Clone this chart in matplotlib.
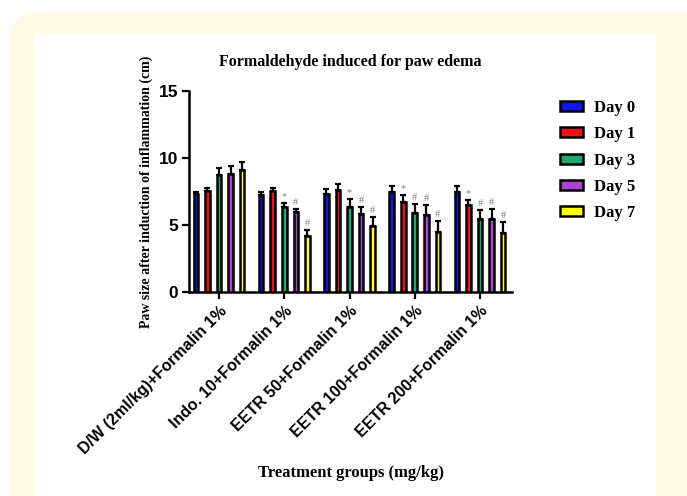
import numpy as np
import matplotlib
matplotlib.use('Agg')
import matplotlib.pyplot as plt
from matplotlib.patches import FancyBboxPatch, Rectangle

# data
groups = ['D/W (2ml/kg)+Formalin 1%', 'Indo. 10+Formalin 1%', 'EETR 50+Formalin 1%',
          'EETR 100+Formalin 1%', 'EETR 200+Formalin 1%']
days = ['Day 0', 'Day 1', 'Day 3', 'Day 5', 'Day 7']
day_colors = ['#1414E6', '#F01010', '#1FA872', '#A944D8', '#FFFF00']

day0 = [7.34, 7.24, 7.34, 7.44, 7.44]
day1 = [7.54, 7.54, 7.64, 6.72, 6.49]
day3 = [8.73, 6.34, 6.34, 5.92, 5.45]
day5 = [8.80, 5.95, 5.85, 5.72, 5.45]
day7 = [9.13, 4.15, 4.95, 4.45, 4.40]

err0 = [0.10, 0.25, 0.37, 0.45, 0.45]
err1 = [0.25, 0.25, 0.40, 0.50, 0.40]
err3 = [0.55, 0.30, 0.60, 0.67, 0.65]
err5 = [0.57, 0.27, 0.47, 0.77, 0.75]
err7 = [0.55, 0.45, 0.65, 0.85, 0.80]

sig0 = ['', '', '', '', '']
sig1 = ['', '', '', '*', '*']
sig3 = ['', '*', '*', '#', '#']
sig5 = ['', '#', '#', '#', '#']
sig7 = ['', '#', '#', '#', '#']

values = [day0, day1, day3, day5, day7]
errors = [err0, err1, err3, err5, err7]
signs = [sig0, sig1, sig3, sig5, sig7]

W, H = 687, 496
fig = plt.figure(figsize=(W / 100, H / 100), dpi=100)
fig.patch.set_facecolor('white')

# cream rounded frame and white panel behind the chart
frame = FancyBboxPatch((0.10, -0.5), 7.5, (H - 12) / 100 + 0.5,
                       boxstyle='round,pad=0,rounding_size=0.28',
                       transform=fig.dpi_scale_trans, facecolor='#FFFBE6',
                       edgecolor='none', zorder=-2)
fig.patches.append(frame)
panel = Rectangle((0.35, -0.5), 6.21, (H - 33) / 100 + 0.5,
                  transform=fig.dpi_scale_trans, facecolor='white',
                  edgecolor='none', zorder=-1)
fig.patches.append(panel)

ax = fig.add_axes([189 / W, 1 - 292 / H, (512 - 189) / W, (292 - 91) / H])
ax.set_facecolor('none')
ax.set_zorder(3)

xg = np.arange(len(groups))
step = 0.177
bw = 0.07
for i in range(len(days)):
    x = xg + (i - 2) * step
    ax.bar(x, values[i], width=bw, color=day_colors[i], edgecolor='black',
           linewidth=1.8, zorder=3, label=days[i])
    ax.errorbar(x, values[i], yerr=[np.zeros(len(groups)), errors[i]], fmt='none',
                ecolor='black', elinewidth=1.6, capsize=2.2, capthick=1.6, zorder=2)
    for j in range(len(groups)):
        if signs[i][j]:
            ax.text(x[j], values[i][j] + errors[i][j] + 0.15, signs[i][j],
                    ha='center', va='bottom', color='#808080', fontsize=7.5,
                    family='Liberation Serif')

ax.set_xlim(-0.46, 4.49)
ax.set_ylim(0, 15)
ax.set_yticks([0, 5, 10, 15])
ax.set_xticks(xg)
ax.set_xticklabels(groups, rotation=45, ha='right', rotation_mode='anchor',
                   family='Liberation Sans', fontweight='bold', fontsize=11.5)
for lab in ax.get_yticklabels():
    lab.set_family('Liberation Sans')
    lab.set_fontweight('bold')
    lab.set_fontsize(12.5)
ax.tick_params(axis='both', width=1.6, length=5, color='black')
ax.tick_params(axis='x', pad=3)
ax.tick_params(axis='y', pad=3)
for s in ['top', 'right']:
    ax.spines[s].set_visible(False)
for s in ['left', 'bottom']:
    ax.spines[s].set_linewidth(1.8)

ax.set_title('Formaldehyde induced for paw edema', family='Liberation Serif',
             fontweight='bold', fontsize=11.5, pad=18)
ax.set_ylabel('Paw size after induction of inflammation (cm)', family='Liberation Serif',
              fontweight='bold', fontsize=10)
ax.yaxis.set_label_coords(-0.11, 0.5)
ax.set_xlabel('Treatment groups (mg/kg)', family='Liberation Serif',
              fontweight='bold', fontsize=12)
ax.xaxis.set_label_coords(0.5, -0.86)

leg = fig.legend(loc='upper left', bbox_to_anchor=(545 / W, 1 - 85 / H),
                 frameon=False, handlelength=1.35, handleheight=0.55,
                 labelspacing=0.62, handletextpad=0.7,
                 prop={'family': 'Liberation Serif', 'weight': 'bold', 'size': 12})

fig.savefig('out.png', dpi=100)
